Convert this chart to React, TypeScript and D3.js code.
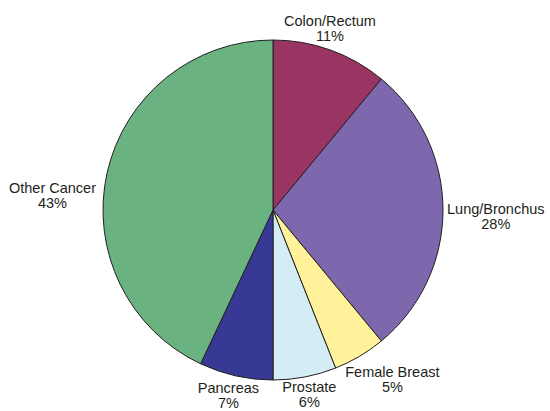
// @ts-nocheck
import React, { useRef, useEffect } from "react";
import * as d3 from "d3";

const categories = [
  "Colon/Rectum",
  "Lung/Bronchus",
  "Female Breast",
  "Prostate",
  "Pancreas",
  "Other Cancer",
];
const percents = [11, 28, 5, 6, 7, 43];
const colors = ["#993463", "#7d68ae", "#fff29b", "#d4ecf3", "#383895", "#6ab280"];

// small hand tweaks so labels sit where the original put them
const labelNudge = {
  "Colon/Rectum": [-12, 11],
  "Lung/Bronchus": [0, 7],
  "Female Breast": [12, -12],
  "Prostate": [0, -5],
  "Pancreas": [-2, -5],
  "Other Cancer": [-6, 34],
};

const width = 550;
const height = 411;
const cx = 273;
const cy = 210;
const radius = 170;

const PieChart = () => {
  const ref = useRef(null);

  useEffect(() => {
    const root = d3.select(ref.current);
    root.selectAll("*").remove();

    const svg = root
      .append("svg")
      .attr("width", width)
      .attr("height", height)
      .style("position", "absolute")
      .style("left", 0)
      .style("top", 0)
      .style("background", "#fff");

    const pie = d3.pie().sort(null).value((d) => d);
    const arc = d3.arc().innerRadius(0).outerRadius(radius);
    const arcs = pie(percents);

    const g = svg.append("g").attr("transform", `translate(${cx},${cy})`);

    g.selectAll("path")
      .data(arcs)
      .enter()
      .append("path")
      .attr("d", arc)
      .attr("fill", (d, i) => colors[i])
      .attr("stroke", "#231f20")
      .attr("stroke-width", 1)
      .attr("stroke-linejoin", "round");

    const labels = g
      .selectAll("text")
      .data(arcs)
      .enter()
      .append("text")
      .attr("font-family", "Liberation Sans, Arial, sans-serif")
      .attr("font-size", 14.5)
      .attr("fill", "#231f20")
      .attr("text-anchor", "middle");

    labels
      .append("tspan")
      .attr("x", 0)
      .attr("dy", 0)
      .text((d, i) => categories[i]);
    labels
      .append("tspan")
      .attr("x", 0)
      .attr("dy", 15)
      .text((d, i) => percents[i] + "%");

    labels.each(function (d, i) {
      const bb = this.getBBox();
      const w = bb.width;
      const h = 30;
      const a = (d.startAngle + d.endAngle) / 2;
      const s = Math.sin(a);
      const c = Math.cos(a);
      const r = radius + 4 + Math.abs(s) * (w / 2) + Math.abs(c) * (h / 2);
      const nudge = labelNudge[categories[i]] || [0, 0];
      const x = s * r + nudge[0];
      const y = -c * r + nudge[1];
      d3.select(this).attr("transform", `translate(${x},${y - 3})`);
    });
  }, []);

  return <div ref={ref}></div>;
};

export default function App() {
  return <PieChart />;
}
